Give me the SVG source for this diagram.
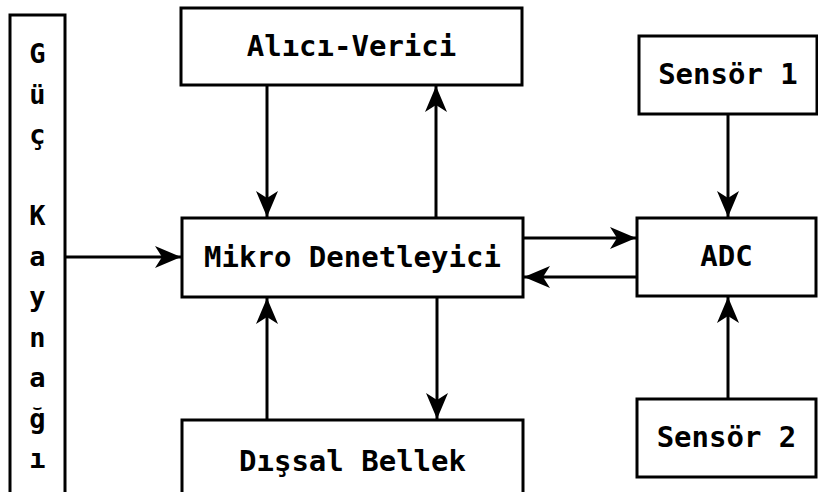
<svg xmlns="http://www.w3.org/2000/svg" width="818" height="492" viewBox="0 0 818 492">
<style>
.box{fill:#fff;stroke:#000;stroke-width:3}
.t{font-family:"DejaVu Sans Mono","Liberation Mono",monospace;font-weight:bold;font-size:29px;fill:#000;text-anchor:middle}
.v{font-family:"DejaVu Sans Mono","Liberation Mono",monospace;font-weight:bold;font-size:27px;fill:#000;text-anchor:middle}
.c{stroke:#000;stroke-width:3;fill:none;marker-end:url(#ah)}
</style>
<defs>
<marker id="ah" markerUnits="userSpaceOnUse" markerWidth="30" markerHeight="26" viewBox="-28 -13 30 26" refX="0" refY="0" orient="auto">
<path d="M0,0 L-26,-11 L-19,0 L-26,11 Z" fill="#000"/>
</marker>
</defs>
<rect width="818" height="492" fill="#fff"/>
<g id="guc">
<rect class="box" x="10" y="15" width="55" height="490"/>
<text class="v" x="37.5"><tspan x="37.5" y="63">G</tspan><tspan x="37.5" y="103.5">ü</tspan><tspan x="37.5" y="144">ç</tspan><tspan x="37.5" y="225">K</tspan><tspan x="37.5" y="265.5">a</tspan><tspan x="37.5" y="306">y</tspan><tspan x="37.5" y="346.5">n</tspan><tspan x="37.5" y="387">a</tspan><tspan x="37.5" y="427.5">ğ</tspan><tspan x="37.5" y="468">ı</tspan></text>
</g>
<g id="alici">
<rect class="box" x="181" y="8" width="341" height="77"/>
<text class="t" x="351.5" y="56">Alıcı-Verici</text>
</g>
<g id="mikro">
<rect class="box" x="182" y="218" width="341" height="79"/>
<text class="t" x="352.5" y="267">Mikro Denetleyici</text>
</g>
<g id="bellek">
<rect class="box" x="182" y="420" width="341" height="90"/>
<text class="t" x="352.5" y="471">Dışsal Bellek</text>
</g>
<g id="sensor1">
<rect class="box" x="639" y="36" width="178" height="78"/>
<text class="t" x="728" y="84">Sensör 1</text>
</g>
<g id="adc">
<rect class="box" x="637" y="218" width="179" height="78"/>
<text class="t" x="726.5" y="266">ADC</text>
</g>
<g id="sensor2">
<rect class="box" x="637" y="399" width="179" height="78"/>
<text class="t" x="726.5" y="447">Sensör 2</text>
</g>
<g id="connectors">
<line class="c" x1="65" y1="257" x2="181" y2="257"/>
<line class="c" x1="267" y1="85" x2="267" y2="217"/>
<line class="c" x1="436" y1="218" x2="436" y2="86"/>
<line class="c" x1="437" y1="297" x2="437" y2="419"/>
<line class="c" x1="267" y1="420" x2="267" y2="298"/>
<line class="c" x1="523" y1="238" x2="636" y2="238"/>
<line class="c" x1="637" y1="277" x2="524" y2="277"/>
<line class="c" x1="728" y1="114" x2="728" y2="217"/>
<line class="c" x1="728" y1="399" x2="728" y2="297"/>
</g>
</svg>
